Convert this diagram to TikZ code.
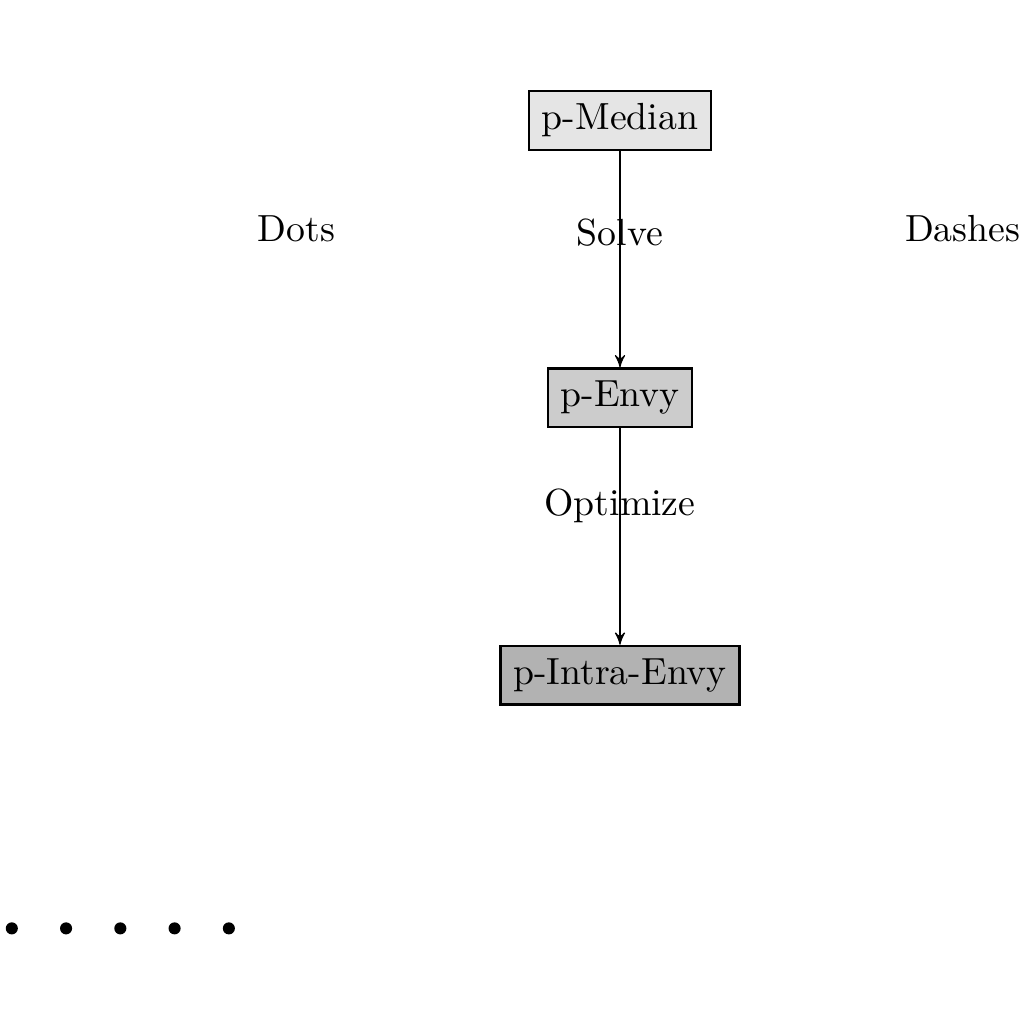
\documentclass[tikz,border=0pt]{standalone}
\usepackage{tikz}
\usetikzlibrary{arrows,positioning}

\begin{document}
\begin{tikzpicture}[node distance=2.015cm,
  probbox/.style={draw,semithick,rectangle},
  flow/.style={-stealth',line width=0.3pt}]
\useasboundingbox (-5.77,1.12) rectangle (3.76,-8.41);
\node[probbox,fill=black!10](median){p-Median};
\node[probbox,fill=black!20,below=of median](envy){p-Envy};
\node[probbox,fill=black!30,below=of envy](intra){p-Intra-Envy};
\draw[flow](median)--node[above]{Solve}(envy);
\draw[flow](envy)--node[above]{Optimize}(intra);
\node(dotslabel)at(-3.01,-1.01){Dots};
\node(dasheslabel)at(3.19,-1.01){Dashes};
\foreach \i in {0,...,4}
  \fill(-5.66+\i*0.505,-7.52)circle(1.6pt);
\end{tikzpicture}
\end{document}
